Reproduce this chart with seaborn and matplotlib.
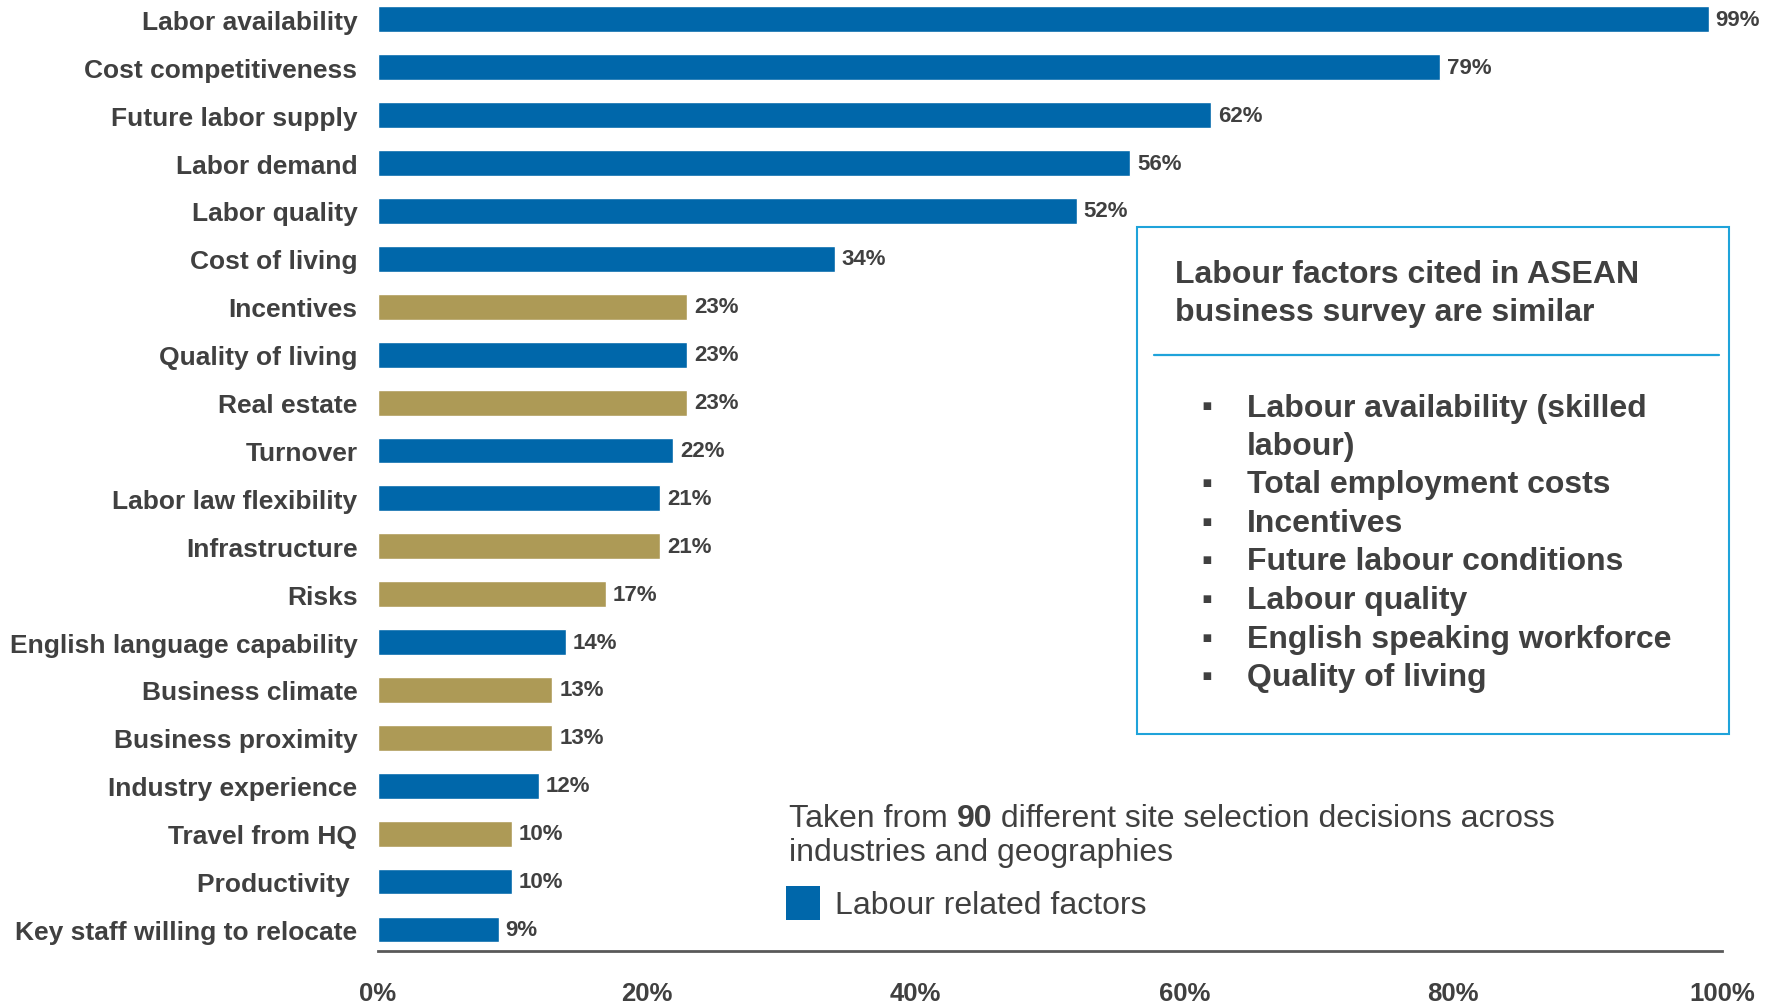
import matplotlib
matplotlib.use("Agg")
import matplotlib.pyplot as plt
from matplotlib.patches import Rectangle
from matplotlib.lines import Line2D
import seaborn as sns
import pandas as pd

categories = ["Labor availability", "Cost competitiveness", "Future labor supply",
              "Labor demand", "Labor quality", "Cost of living", "Incentives",
              "Quality of living", "Real estate", "Turnover", "Labor law flexibility",
              "Infrastructure", "Risks", "English language capability",
              "Business climate", "Business proximity", "Industry experience",
              "Travel from HQ", "Productivity ", "Key staff willing to relocate"]
values = [99, 79, 62, 56, 52, 34, 23, 23, 23, 22, 21, 21, 17, 14, 13, 13, 12, 10, 10, 9]
groups = ["Labour", "Labour", "Labour", "Labour", "Labour", "Labour", "Other",
          "Labour", "Other", "Labour", "Labour", "Other", "Other", "Labour",
          "Other", "Other", "Labour", "Other", "Labour", "Labour"]
tick_values = [0, 20, 40, 60, 80, 100]
tick_labels = ["0%", "20%", "40%", "60%", "80%", "100%"]
box_title = "Labour factors cited in ASEAN\nbusiness survey are similar"
box_items = ["Labour availability (skilled\nlabour)", "Total employment costs",
             "Incentives", "Future labour conditions", "Labour quality",
             "English speaking workforce", "Quality of living"]
legend_label = "Labour related factors"

BLUE = "#0067AA"
GOLD = "#AD9A56"
TXT = "#404040"
BOXC = "#1FA3DA"

sns.set_theme(style="white")
plt.rcParams["font.family"] = ["Liberation Sans", "DejaVu Sans"]

df = pd.DataFrame({"category": categories, "value": values, "group": groups})

W, H = 1778, 1003
fig = plt.figure(figsize=(W / 100, H / 100), dpi=100)
ax = fig.add_axes([377.6 / W, 1 - 952 / H, (1722 - 377.6) / W, 952 / H])

sns.barplot(data=df, y="category", x="value", hue="group",
            palette={"Labour": BLUE, "Other": GOLD}, orient="h",
            dodge=False, width=0.54, legend=False, saturation=1, ax=ax)

ax.set_xlim(0, 100)
ax.set_ylim(19.45, -0.426)
ax.set_xlabel("")
ax.set_ylabel("")
for s in ["top", "right", "left"]:
    ax.spines[s].set_visible(False)
ax.spines["bottom"].set_color("#595959")
ax.spines["bottom"].set_linewidth(2)
ax.set_xticks(tick_values)
ax.set_xticklabels(tick_labels, fontsize=18.5, fontweight="bold", color=TXT)
ax.tick_params(axis="x", direction="out", length=6.5, width=1.2, color="#595959", pad=15)
ax.tick_params(axis="y", length=0, pad=14.5)
for lbl in ax.get_yticklabels():
    lbl.set_fontsize(19)
    lbl.set_fontweight("bold")
    lbl.set_color(TXT)

for cont in ax.containers:
    ax.bar_label(cont, labels=[f"{v:.0f}%" for v in cont.datavalues], padding=5,
                 fontsize=16, fontweight="bold", color=TXT)

# Text box
bl, br, bt, bb = 1137 / W, 1729 / W, 1 - 228 / H, 1 - 735 / H
fig.patches.append(Rectangle((bl, bb), br - bl, bt - bb, transform=fig.transFigure,
                             fill=False, edgecolor=BOXC, linewidth=1.5))
fig.lines.append(Line2D([1154 / W, 1719 / W], [1 - 356 / H, 1 - 356 / H],
                        transform=fig.transFigure, color=BOXC, linewidth=1.6))
fig.text(1175 / W, 1 - 294 / H, box_title, fontsize=23, fontweight="bold",
         color=TXT, va="center", ha="left", linespacing=1.36)

line_y = [428, 485, 524, 562, 601, 640, 678]
bullet_y = [408, 485, 524, 562, 601, 640, 678]
for item, yy, by in zip(box_items, line_y, bullet_y):
    fig.text(1201 / W, 1 - by / H, "\u25aa", fontsize=22, color=TXT, va="center", ha="left")
    fig.text(1247 / W, 1 - yy / H, item, fontsize=23, fontweight="bold", color=TXT,
             va="center", ha="left", linespacing=1.36)

# Bottom note
t1 = fig.text(789 / W, 1 - 834 / H, "Taken from ", fontsize=23, color=TXT,
              va="bottom", ha="left")
t2 = ax.annotate("90", xy=(1, 0), xycoords=t1, fontsize=23, fontweight="bold",
                 color=TXT, va="bottom", ha="left", annotation_clip=False)
t3 = ax.annotate(" different site selection decisions across", xy=(1, 0), xycoords=t2,
                 fontsize=23, color=TXT, va="bottom", ha="left", annotation_clip=False)
fig.text(789 / W, 1 - 853 / H, "industries and geographies", fontsize=23, color=TXT,
         va="center", ha="left")

fig.patches.append(Rectangle((786 / W, 1 - 921 / H), 34 / W, 34 / H,
                             transform=fig.transFigure, facecolor=BLUE, edgecolor="none"))
fig.text(835 / W, 1 - 906 / H, legend_label, fontsize=23, color=TXT,
         va="center", ha="left")

fig.savefig("out.png", dpi=100)
